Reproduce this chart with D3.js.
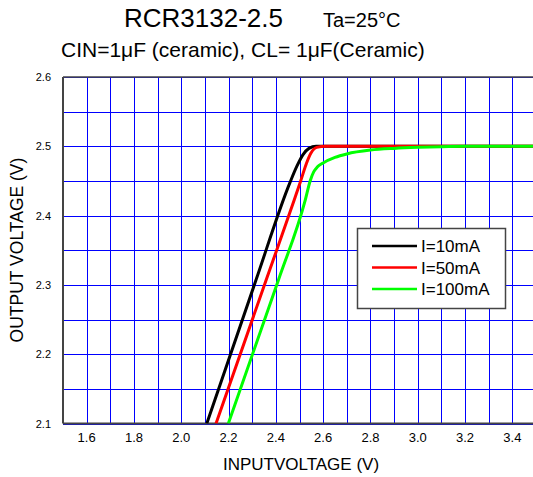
<!DOCTYPE html>
<html>
<head>
<script src="https://d3js.org/d3.v7.min.js"></script>
<style>
  body { margin: 0; background: #fff; font-family: "Liberation Sans", Arial, sans-serif; }
  .grid line { stroke: #0000ff; stroke-width: 1; shape-rendering: crispEdges; }
</style>
</head>
<body>
<svg id="chart" width="533" height="477"></svg>
<script>
// curve data: [input V, output V]
var seriesNames = ["I=10mA", "I=50mA", "I=100mA"];
var seriesColors = ["#000000", "#ff0000", "#00ff00"];
var i10 = [[2.108,2.100],[2.316,2.307],[2.460,2.448],[2.490,2.472],[2.515,2.488],[2.540,2.497],[2.570,2.500],[2.600,2.500],[3.500,2.500]];
var i50 = [[2.147,2.100],[2.359,2.307],[2.478,2.423],[2.505,2.450],[2.530,2.476],[2.548,2.490],[2.573,2.4985],[2.610,2.500],[2.700,2.500],[3.500,2.500]];
var i100 = [[2.199,2.100],[2.411,2.307],[2.524,2.422],[2.545,2.450],[2.560,2.463],[2.575,2.470],[2.600,2.476],[2.650,2.484],[2.700,2.489],[2.800,2.4945],[2.900,2.497],[3.000,2.4985],[3.100,2.4995],[3.200,2.500],[3.500,2.500]];
var allSeries = [i10, i50, i100];

var xTicks = [1.6, 1.8, 2.0, 2.2, 2.4, 2.6, 2.8, 3.0, 3.2, 3.4];
var yTicks = [2.1, 2.2, 2.3, 2.4, 2.5, 2.6];
var xGrid = d3.range(16, 35).map(function(d) { return d / 10; });
var yGrid = d3.range(42, 53).map(function(d) { return d / 20; });

var pLeft = 63, pTop = 77, pBottom = 423.5, pRight = 536;

var svg = d3.select("#chart");
var x = d3.scaleLinear().domain([1.5, 3.5]).range([pLeft, pRight]);
var y = d3.scaleLinear().domain([2.1, 2.6]).range([pBottom, pTop]);

svg.append("defs").append("clipPath").attr("id", "clip")
  .append("rect").attr("x", pLeft).attr("y", pTop - 2)
  .attr("width", pRight - pLeft).attr("height", pBottom - pTop + 2);

// grid
var grid = svg.append("g").attr("class", "grid");
grid.selectAll("line.v").data(xGrid).enter().append("line")
  .attr("x1", function(d) { return Math.round(x(d)) + 0.5; })
  .attr("x2", function(d) { return Math.round(x(d)) + 0.5; })
  .attr("y1", pTop).attr("y2", pBottom);
grid.selectAll("line.h").data(yGrid).enter().append("line")
  .attr("y1", function(d) { return Math.round(y(d)) + 0.5; })
  .attr("y2", function(d) { return Math.round(y(d)) + 0.5; })
  .attr("x1", pLeft).attr("x2", pRight);

// frame
svg.append("line").attr("x1", pLeft).attr("x2", pRight).attr("y1", pTop).attr("y2", pTop)
  .attr("stroke", "#444").attr("stroke-width", 1.5);
svg.append("line").attr("x1", pLeft).attr("x2", pLeft).attr("y1", pTop).attr("y2", pBottom)
  .attr("stroke", "#444").attr("stroke-width", 2);
svg.append("line").attr("x1", pLeft).attr("x2", pRight).attr("y1", pBottom).attr("y2", pBottom)
  .attr("stroke", "#444").attr("stroke-width", 2);

// tick labels
svg.selectAll("text.yl").data(yTicks).enter().append("text")
  .attr("class", "yl")
  .attr("x", pLeft - 12).attr("y", function(d) { return y(d) + 4; })
  .attr("text-anchor", "end").style("font-size", "11px")
  .text(function(d) { return d.toFixed(1); });
svg.selectAll("text.xl").data(xTicks).enter().append("text")
  .attr("class", "xl")
  .attr("x", function(d) { return x(d); }).attr("y", 442)
  .attr("text-anchor", "middle").style("font-size", "13px")
  .text(function(d) { return d.toFixed(1); });

// curves
var line = d3.line()
  .x(function(d) { return x(d[0]); })
  .y(function(d) { return y(d[1]); })
  .curve(d3.curveMonotoneX);
svg.append("g").attr("clip-path", "url(#clip)")
  .selectAll("path").data(allSeries).enter().append("path")
  .attr("d", line)
  .attr("fill", "none")
  .attr("stroke", function(d, i) { return seriesColors[i]; })
  .attr("stroke-width", 3)
  .attr("stroke-linejoin", "round");

// legend
var lg = svg.append("g");
lg.append("rect").attr("x", 357.5).attr("y", 228.5).attr("width", 148).attr("height", 80)
  .attr("fill", "#fff").attr("stroke", "#444").attr("stroke-width", 1.5);
seriesNames.forEach(function(name, i) {
  var yy = 246 + i * 21.5;
  lg.append("line").attr("x1", 372).attr("x2", 417).attr("y1", yy).attr("y2", yy)
    .attr("stroke", seriesColors[i]).attr("stroke-width", 2.5);
  lg.append("text").attr("x", 421).attr("y", yy + 6).style("font-size", "17px").text(name);
});

// titles
svg.append("text").attr("x", 124).attr("y", 27).style("font-size", "26px").text("RCR3132-2.5");
svg.append("text").attr("x", 323).attr("y", 27).style("font-size", "20px").text("Ta=25°C");
svg.append("text").attr("x", 61).attr("y", 57).style("font-size", "21px")
  .text("CIN=1μF (ceramic), CL= 1μF(Ceramic)");
svg.append("text").attr("x", 301).attr("y", 470).attr("text-anchor", "middle")
  .style("font-size", "17px").text("INPUTVOLTAGE (V)");
svg.append("text").attr("transform", "translate(23,250) rotate(-90)")
  .attr("text-anchor", "middle").style("font-size", "17.5px").text("OUTPUT VOLTAGE (V)");
</script>
</body>
</html>
